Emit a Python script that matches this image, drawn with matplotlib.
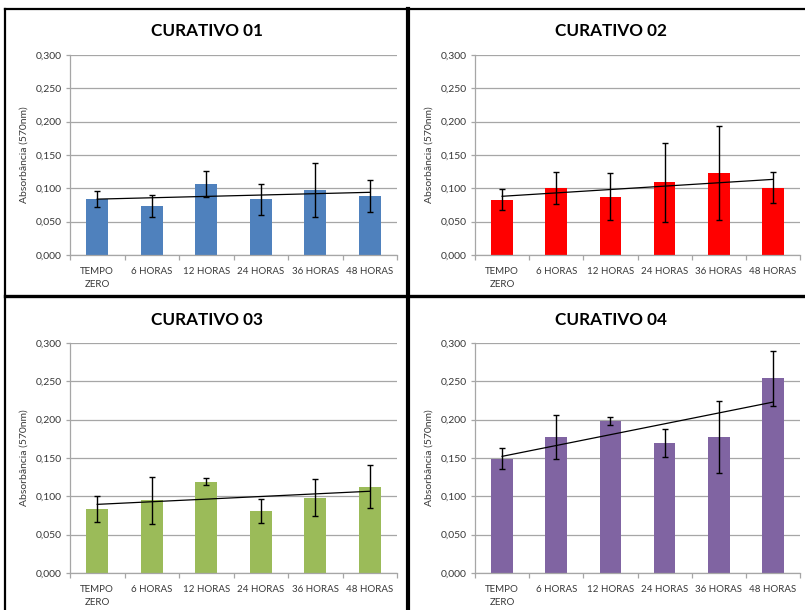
import matplotlib
matplotlib.use("Agg")
import matplotlib.pyplot as plt
from matplotlib.lines import Line2D
from matplotlib.ticker import FuncFormatter, FixedLocator
import numpy as np

plt.rcParams['font.family'] = ['Lato', 'DejaVu Sans']

categories = ["TEMPO\nZERO", "6 HORAS", "12 HORAS", "24 HORAS", "36 HORAS", "48 HORAS"]
titles = ["CURATIVO 01", "CURATIVO 02", "CURATIVO 03", "CURATIVO 04"]

cur01_mean = [0.084, 0.0735, 0.1065, 0.0835, 0.0975, 0.0885]
cur01_err = [0.012, 0.017, 0.020, 0.023, 0.040, 0.0235]
cur02_mean = [0.083, 0.101, 0.0875, 0.109, 0.123, 0.101]
cur02_err = [0.016, 0.024, 0.035, 0.059, 0.070, 0.023]
cur03_mean = [0.083, 0.0948, 0.119, 0.081, 0.098, 0.1126]
cur03_err = [0.017, 0.031, 0.0048, 0.016, 0.024, 0.028]
cur04_mean = [0.149, 0.1774, 0.1983, 0.1691, 0.1774, 0.2539]
cur04_err = [0.0137, 0.0287, 0.005, 0.0183, 0.047, 0.036]

y_ticks = [0.0, 0.05, 0.10, 0.15, 0.20, 0.25, 0.30]
colors = ["#4F81BD", "#FF0000", "#9BBB59", "#8064A2"]
means = [cur01_mean, cur02_mean, cur03_mean, cur04_mean]
errs = [cur01_err, cur02_err, cur03_err, cur04_err]

W, H = 805, 610
fig = plt.figure(figsize=(W / 100, H / 100), dpi=100)
fig.patch.set_facecolor("white")

def rect(x0, y0, x1, y1):
    return [x0 / W, 1 - y1 / H, (x1 - x0) / W, (y1 - y0) / H]

ax_boxes = [(70, 55, 397, 255), (475, 55, 800, 255),
            (70, 343, 397, 573), (475, 343, 800, 573)]
title_pos = [(207, 31), (611, 31), (207, 320), (611, 320)]
grid_col = "#a6a6a6"
text_col = "#383838"

for i in range(4):
    ax = fig.add_axes(rect(*ax_boxes[i]))
    x = np.arange(len(categories))
    ax.set_axisbelow(True)
    ax.bar(x, means[i], width=0.4, color=colors[i], zorder=2)
    ax.errorbar(x, means[i], yerr=errs[i], fmt="none", ecolor="black",
                elinewidth=1.0, capsize=2.5, capthick=1.0, zorder=4)
    coef = np.polyfit(x, means[i], 1)
    ax.plot([x[0], x[-1]], np.polyval(coef, [x[0], x[-1]]), color="black",
            linewidth=0.9, zorder=5)
    ax.set_xlim(-0.5, len(categories) - 0.5)
    ax.set_ylim(0, 0.3)
    ax.yaxis.set_major_locator(FixedLocator(y_ticks))
    ax.yaxis.set_major_formatter(FuncFormatter(lambda v, p: f"{v:.3f}".replace(".", ",")))
    ax.grid(axis="y", color=grid_col, linewidth=0.9)
    ax.set_xticks(x)
    ax.set_xticklabels(categories, fontsize=7, color=text_col, linespacing=1.45)
    ax.set_xticks(np.arange(-0.5, len(categories)), minor=True)
    ax.tick_params(axis="x", which="major", length=0, pad=9)
    ax.tick_params(axis="x", which="minor", length=3.5, color=grid_col, width=0.9, direction="out")
    ax.tick_params(axis="y", length=3, color=grid_col, width=0.9, labelsize=7.5,
                   labelcolor=text_col, pad=3)
    for s in ["top", "right"]:
        ax.spines[s].set_visible(False)
    for s in ["left", "bottom"]:
        ax.spines[s].set_color(grid_col)
        ax.spines[s].set_linewidth(0.9)
    ax.set_ylabel("Absorbância (570nm)", fontsize=7.5, color=text_col, labelpad=5)
    fig.text(title_pos[i][0] / W, 1 - title_pos[i][1] / H, titles[i],
             fontsize=12.3, fontweight="bold", ha="center", va="center", color="black")

def fline(x0, y0, x1, y1, lw):
    fig.add_artist(Line2D([x0 / W, x1 / W], [1 - y0 / H, 1 - y1 / H],
                          color="black", linewidth=lw, transform=fig.transFigure))

fline(5, 9, 805, 9, 1.6)
fline(5, 9, 5, 610, 1.6)
fline(408, 9, 408, 610, 3.0)
fline(5, 296, 805, 296, 2.4)

fig.savefig("out.png", dpi=100, facecolor="white")
